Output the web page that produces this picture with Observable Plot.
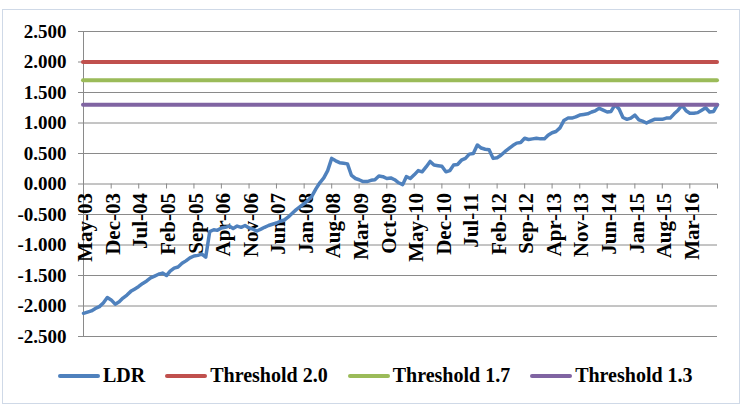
<!DOCTYPE html>
<html>
<head>
<meta charset="utf-8">
<script src="https://cdn.jsdelivr.net/npm/d3@7"></script>
<script src="https://cdn.jsdelivr.net/npm/@observablehq/plot@0.6"></script>
<style>
  body { margin: 0; background: #fff; }
  #wrap { position: relative; width: 744px; height: 408px; overflow: hidden;
          font-family: 'Liberation Serif', 'Times New Roman', serif; }
  #border { position: absolute; left: 2px; top: 9px; width: 738px; height: 395px;
            box-sizing: border-box; border: 1px solid #cfd9e7; }
  #chart { position: absolute; left: 0; top: 0; }
  #legend { position: absolute; left: 58px; top: 364px; display: flex; align-items: center;
            font-family: 'Liberation Serif', 'Times New Roman', serif;
            font-weight: bold; font-size: 20px; color: #000; white-space: nowrap; }
  .item { display: flex; align-items: center; margin-right: 20px; }
  .swatch { width: 42px; height: 4px; border-radius: 2px; margin-right: 3px; }
</style>
</head>
<body>
<div id="wrap">
  <div id="border"></div>
  <div id="chart"></div>
  <div id="legend"></div>
</div>
<script>
// Monthly LDR series, May 2003 to Oct 2016
const startMonth = "2003-05";
const ldr = [
  -2.12, -2.10, -2.08, -2.04, -2.01, -1.95, -1.86, -1.90,            // May-03 .. Dec-03
  -1.97, -1.93, -1.87, -1.82, -1.76, -1.72, -1.68, -1.63, -1.59, -1.54, -1.51, -1.48, // 2004
  -1.46, -1.50, -1.43, -1.38, -1.36, -1.30, -1.26, -1.21, -1.18, -1.17, -1.15, -1.20, // 2005
  -0.78, -0.75, -0.76, -0.72, -0.71, -0.69, -0.73, -0.69, -0.71, -0.68, -0.72, -0.74, // 2006
  -0.77, -0.74, -0.71, -0.68, -0.66, -0.64, -0.61, -0.59, -0.54, -0.48, -0.42, -0.37, // 2007
  -0.32, -0.27, -0.20, -0.08, 0.02, 0.10, 0.22, 0.42, 0.38, 0.35, 0.34, 0.33,         // 2008
  0.14, 0.09, 0.07, 0.04, 0.04, 0.06, 0.07, 0.13, 0.12, 0.09, 0.10, 0.07,             // 2009
  0.02, -0.01, 0.12, 0.09, 0.15, 0.22, 0.20, 0.28, 0.37, 0.31, 0.30, 0.29,            // 2010
  0.20, 0.22, 0.31, 0.32, 0.39, 0.42, 0.49, 0.50, 0.64, 0.59, 0.57, 0.56,             // 2011
  0.42, 0.43, 0.47, 0.53, 0.58, 0.63, 0.67, 0.68, 0.75, 0.73, 0.74, 0.75,             // 2012
  0.74, 0.74, 0.80, 0.84, 0.86, 0.92, 1.04, 1.08, 1.08, 1.10, 1.13, 1.14,             // 2013
  1.15, 1.18, 1.20, 1.24, 1.21, 1.18, 1.19, 1.30, 1.23, 1.09, 1.06, 1.08,             // 2014
  1.13, 1.05, 1.03, 1.00, 1.03, 1.06, 1.06, 1.06, 1.08, 1.08, 1.15, 1.21,             // 2015
  1.29, 1.20, 1.16, 1.16, 1.17, 1.21, 1.25, 1.18, 1.19, 1.30                          // Jan-16 .. Oct-16
];

// Threshold levels
const thresholds = [2.0, 1.7, 1.3];
const thresholdNames = ["Threshold 2.0", "Threshold 1.7", "Threshold 1.3"];

// Category labels shown on the x axis (every seventh month)
const tickLabels = ["May-03", "Dec-03", "Jul-04", "Feb-05", "Sep-05", "Apr-06", "Nov-06", "Jun-07",
  "Jan-08", "Aug-08", "Mar-09", "Oct-09", "May-10", "Dec-10", "Jul-11", "Feb-12", "Sep-12",
  "Apr-13", "Nov-13", "Jun-14", "Jan-15", "Aug-15", "Mar-16"];

const yTicks = [-2.5, -2.0, -1.5, -1.0, -0.5, 0, 0.5, 1.0, 1.5, 2.0, 2.5];

const ldrColor = "#4f81bd";
const thresholdColors = ["#c0504d", "#9bbb59", "#8064a2"];
const gridColor = "#8a8a8a";
const serif = "'Liberation Serif', 'Times New Roman', serif";

const t0 = d3.utcParse("%Y-%m")(startMonth);
const series = ldr.map((v, i) => ({date: d3.utcMonth.offset(t0, i), value: v}));
const endDate = series[series.length - 1].date;
const parseLabel = d3.utcParse("%b-%y");
const tickDates = tickLabels.map(parseLabel);
const tickMarks = [...tickDates, endDate];

const chart = Plot.plot({
  width: 744,
  height: 350,
  marginLeft: 83,
  marginRight: 27,
  marginTop: 31,
  marginBottom: 14,
  style: {fontFamily: serif, background: "transparent"},
  x: {type: "utc", domain: [t0, endDate], axis: null},
  y: {domain: [-2.5, 2.5], axis: null},
  color: {type: "identity"},
  marks: [
    Plot.gridY(yTicks, {stroke: gridColor, strokeOpacity: 1}),
    Plot.ruleX([t0], {stroke: gridColor}),
    Plot.axisY(yTicks, {
      tickSize: 5, tickPadding: 12, stroke: gridColor, fill: "#000",
      tickFormat: d => d.toFixed(3), fontSize: 19, fontWeight: "bold",
      fontFamily: serif, label: null
    }),
    Plot.ruleX(tickMarks, {x: d => d, y1: 0, y2: 0, insetBottom: -5, stroke: gridColor}),
    Plot.text(tickDates, {
      x: d => d, y: 0, text: (d, i) => tickLabels[i], rotate: -90, textAnchor: "end",
      dx: 2, dy: 9, fontSize: 21, fontWeight: "bold", fontFamily: serif, fill: "#000"
    }),
    Plot.line(series, {x: "date", y: "value", stroke: ldrColor, strokeWidth: 3.5,
      strokeLinejoin: "round", strokeLinecap: "round"}),
    Plot.ruleY(thresholds, {y: d => d, stroke: (d, i) => thresholdColors[i], strokeWidth: 4,
      strokeLinecap: "round"})
  ]
});
document.getElementById("chart").appendChild(chart);

// Legend
const legend = document.getElementById("legend");
const entries = [{name: "LDR", color: ldrColor},
  ...thresholdNames.map((n, i) => ({name: n, color: thresholdColors[i]}))];
for (const e of entries) {
  const item = document.createElement("div");
  item.className = "item";
  const sw = document.createElement("div");
  sw.className = "swatch";
  sw.style.background = e.color;
  const label = document.createElement("span");
  label.textContent = e.name;
  item.append(sw, label);
  legend.append(item);
}
</script>
</body>
</html>
